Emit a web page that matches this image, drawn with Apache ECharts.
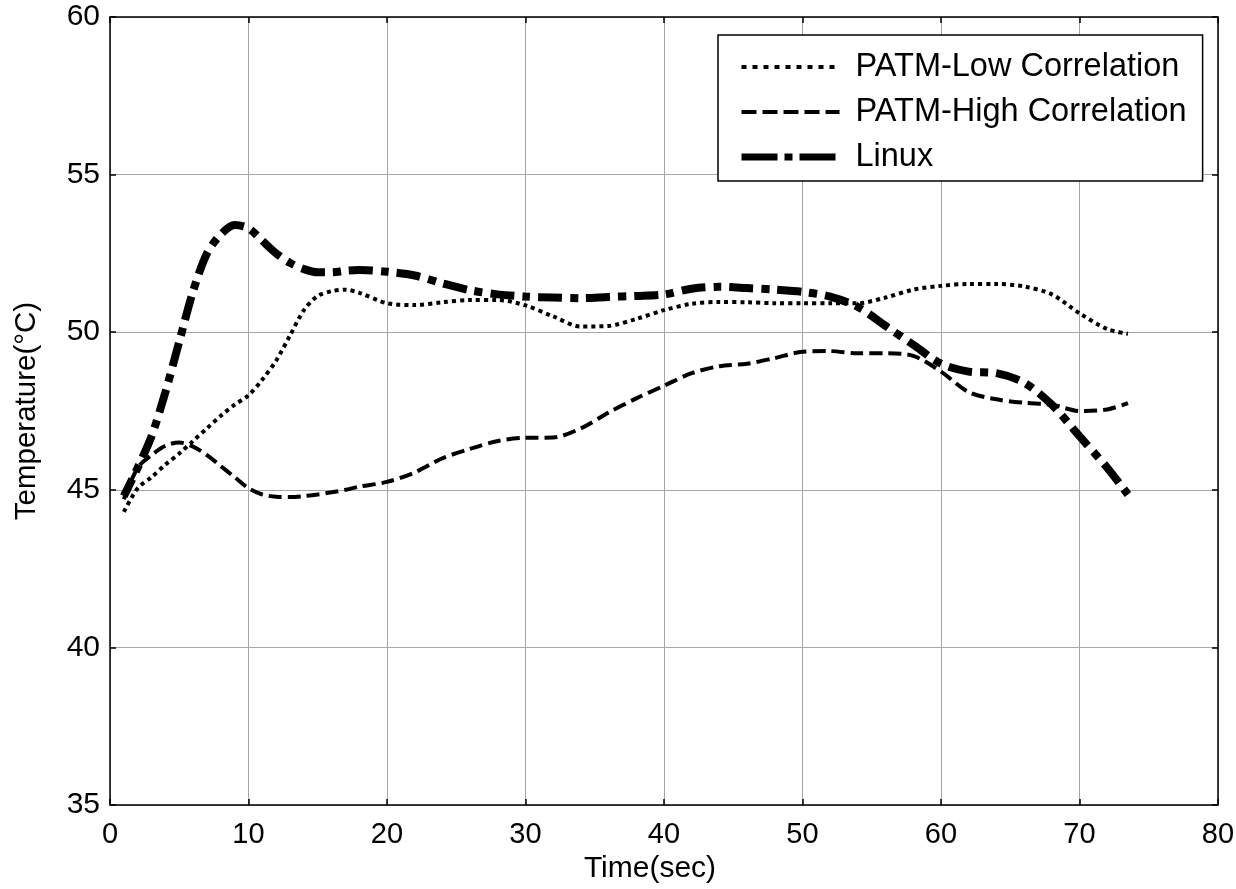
<!DOCTYPE html>
<html>
<head>
<meta charset="utf-8">
<script src="https://cdn.jsdelivr.net/npm/echarts@6/dist/echarts.min.js"></script>
<style>
  html, body { margin: 0; padding: 0; background: #fff; }
  #chart { width: 1236px; height: 889px; }
</style>
</head>
<body>
<div id="chart"></div>
<script>
// time stamps (sec)
var times = [1, 2, 3, 4, 5, 6, 7, 8, 9, 10, 11, 12, 13, 14, 15, 16, 17, 18, 20, 22, 24, 26, 28, 30,
  32, 34, 36, 38, 40, 42, 44, 46, 48, 50, 52, 54, 56, 58, 60, 62, 64, 66, 68, 70, 72, 73.5]

var lowCorr = [44.3, 45.05, 45.4, 45.8, 46.15, 46.55, 46.95, 47.35, 47.7, 48.0, 48.5, 49.1, 49.9, 50.7,
  51.15, 51.3, 51.35, 51.25, 50.92, 50.86, 50.95, 51.02, 51.02, 50.85, 50.5, 50.18, 50.2, 50.42, 50.7,
  50.9, 50.96, 50.95, 50.92, 50.92, 50.92, 50.92, 51.1, 51.35, 51.47, 51.53, 51.53, 51.45, 51.2, 50.6,
  50.1, 49.95]

var highCorr = [44.7, 45.7, 46.1, 46.4, 46.5, 46.37, 46.1, 45.75, 45.4, 45.05, 44.85, 44.78, 44.77, 44.8,
  44.85, 44.92, 45.0, 45.1, 45.25, 45.55, 46.0, 46.3, 46.55, 46.65, 46.66, 46.95, 47.45, 47.9, 48.3,
  48.7, 48.92, 49.0, 49.18, 49.38, 49.4, 49.33, 49.33, 49.25, 48.75, 48.1, 47.87, 47.76, 47.7, 47.5,
  47.55, 47.75]

var linux = [44.8, 45.7, 46.7, 48.1, 49.7, 51.3, 52.5, 53.1, 53.4, 53.3, 52.9, 52.5, 52.2, 52.0, 51.9,
  51.9, 51.95, 51.97, 51.92, 51.8, 51.55, 51.33, 51.2, 51.13, 51.1, 51.08, 51.12, 51.15, 51.2, 51.38,
  51.44, 51.4, 51.35, 51.28, 51.13, 50.8, 50.2, 49.6, 49.0, 48.75, 48.7, 48.4, 47.7, 46.7, 45.7, 44.85]

var xTicks = [0, 10, 20, 30, 40, 50, 60, 70, 80]
var yTicks = [35, 40, 45, 50, 55, 60]

function pairs(vals) {
  return times.map(function (t, i) { return [t, vals[i]] })
}

var font = 'Liberation Sans, Arial, sans-serif'
var chart = echarts.init(document.getElementById('chart'))

var gridLine = { show: true, lineStyle: { color: '#a6a6a6', width: 1 } }
var tick = { show: true, inside: true, length: 6, lineStyle: { color: '#000', width: 1.5 } }
var axisLine = { show: true, onZero: false, lineStyle: { color: '#000', width: 1.5 } }

var option = {
  backgroundColor: '#fff',
  animation: false,
  grid: { left: 110, top: 17, right: 18, bottom: 84, containLabel: false, outerBoundsMode: 'none' },
  legend: {
    orient: 'vertical',
    left: 718,
    top: 35,
    padding: [14, 16, 6, 20],
    itemWidth: 98,
    itemHeight: 20,
    itemGap: 9,
    backgroundColor: '#fff',
    borderColor: '#000',
    borderWidth: 1.5,
    borderRadius: 0,
    itemStyle: { color: 'transparent', borderColor: 'transparent', borderWidth: 0 },
    textStyle: { fontFamily: font, fontSize: 32.5, lineHeight: 36, color: '#000', padding: [0, 0, 0, 11] },
    data: [
      { name: 'PATM-Low Correlation', lineStyle: { color: '#000', width: 4, type: [5, 6], dashOffset: 0, cap: 'butt' } },
      { name: 'PATM-High Correlation', lineStyle: { color: '#000', width: 4, type: [15, 6], dashOffset: 0, cap: 'butt' } },
      { name: 'Linux', lineStyle: { color: '#000', width: 7, type: [36, 7, 8, 7], dashOffset: 0, cap: 'butt' } }
    ]
  },
  xAxis: [{
    type: 'value',
    min: xTicks[0],
    max: xTicks[xTicks.length - 1],
    interval: 10,
    name: 'Time(sec)',
    nameLocation: 'middle',
    nameGap: 49,
    nameTextStyle: { fontFamily: font, fontSize: 30, color: '#000', padding: [0, 28, 0, 0] },
    axisLine: axisLine,
    axisTick: tick,
    axisLabel: { fontFamily: font, fontSize: 29, color: '#000', margin: 15 },
    splitLine: gridLine
  }, {
    type: 'value',
    position: 'top',
    min: xTicks[0],
    max: xTicks[xTicks.length - 1],
    interval: 10,
    axisLine: axisLine,
    axisTick: tick,
    axisLabel: { show: false },
    splitLine: { show: false }
  }],
  yAxis: [{
    type: 'value',
    min: yTicks[0],
    max: yTicks[yTicks.length - 1],
    interval: 5,
    name: 'Temperature(°C)',
    nameLocation: 'middle',
    nameGap: 68,
    nameMoveOverlap: false,
    nameTextStyle: { fontFamily: font, fontSize: 29.5, color: '#000' },
    axisLine: axisLine,
    axisTick: tick,
    axisLabel: { fontFamily: font, fontSize: 30, color: '#000', margin: 10 },
    splitLine: gridLine
  }, {
    type: 'value',
    position: 'right',
    min: yTicks[0],
    max: yTicks[yTicks.length - 1],
    interval: 5,
    axisLine: axisLine,
    axisTick: tick,
    axisLabel: { show: false },
    splitLine: { show: false }
  }],
  series: [{
    name: 'PATM-Low Correlation',
    type: 'line',
    smooth: 0.3,
    symbol: 'none',
    data: pairs(lowCorr),
    lineStyle: { color: '#000', width: 4, type: [4, 4], cap: 'butt', join: 'bevel' },
    z: 3
  }, {
    name: 'PATM-High Correlation',
    type: 'line',
    smooth: 0.3,
    symbol: 'none',
    data: pairs(highCorr),
    lineStyle: { color: '#000', width: 4, type: [13, 6], cap: 'butt', join: 'bevel' },
    z: 3
  }, {
    name: 'Linux',
    type: 'line',
    smooth: 0.3,
    symbol: 'none',
    data: pairs(linux),
    lineStyle: { color: '#000', width: 8, type: [24, 8, 8, 8], dashOffset: 5, cap: 'butt', join: 'bevel' },
    z: 4
  }]
}

chart.setOption(option)
</script>
</body>
</html>
